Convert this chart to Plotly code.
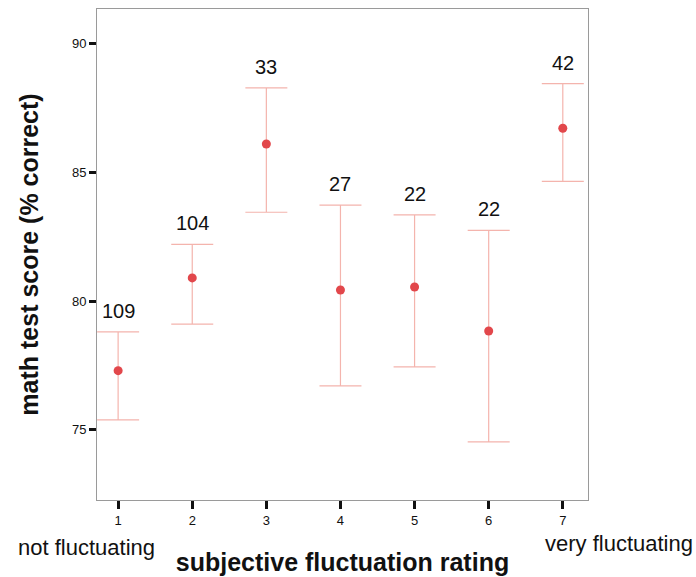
import plotly.graph_objects as go

ratings = [1, 2, 3, 4, 5, 6, 7]
means = [77.30, 80.90, 86.10, 80.43, 80.55, 78.84, 86.71]
upper = [78.81, 82.20, 88.28, 83.73, 83.35, 82.75, 88.44]
lower = [75.39, 79.11, 83.45, 76.71, 77.45, 74.54, 84.65]
counts = ["109", "104", "33", "27", "22", "22", "42"]
y_ticks = [75, 80, 85, 90]

err_plus = [u - m for u, m in zip(upper, means)]
err_minus = [m - l for m, l in zip(means, lower)]

FONT = "Liberation Sans, Arial, Helvetica, sans-serif"

fig = go.Figure()
fig.add_trace(go.Scatter(
    x=ratings, y=means, mode="markers",
    marker=dict(color="#e2474b", size=9, line=dict(width=0)),
    error_y=dict(type="data", symmetric=False, array=err_plus, arrayminus=err_minus,
                 color="#f4b4ad", thickness=1.2, width=21),
    showlegend=False, hoverinfo="skip",
))

annotations = []
for x, u, c in zip(ratings, upper, counts):
    annotations.append(dict(x=x, y=u, text=c, showarrow=False, xref="x", yref="y",
                            yanchor="bottom", yshift=8,
                            font=dict(family=FONT, size=20, color="#111")))

annotations += [
    dict(text="not fluctuating", x=-0.165, y=-0.097, xref="paper", yref="paper",
         xanchor="left", yanchor="middle", showarrow=False,
         font=dict(family=FONT, size=22, color="#111")),
    dict(text="very fluctuating", x=1.218, y=-0.088, xref="paper", yref="paper",
         xanchor="right", yanchor="middle", showarrow=False,
         font=dict(family=FONT, size=22, color="#111")),
]

fig.update_layout(
    width=696, height=577,
    margin=dict(l=97, r=108, t=9, b=77),
    paper_bgcolor="white", plot_bgcolor="white",
    font=dict(family=FONT, color="#111"),
    annotations=annotations,
    xaxis=dict(range=[0.715, 7.34], tickvals=ratings, ticktext=[str(r) for r in ratings],
               showgrid=False, zeroline=False, showline=True, mirror=True,
               linecolor="#9a9a9a", linewidth=1, automargin=False,
               ticks="outside", ticklen=8, tickwidth=3, tickcolor="#111",
               tickfont=dict(size=13, family=FONT),
               title=dict(text="<b>subjective fluctuation rating</b>",
                          font=dict(size=25, family=FONT), standoff=26)),
    yaxis=dict(range=[72.28, 91.34], tickvals=y_ticks,
               showgrid=False, zeroline=False, showline=True, mirror=True,
               linecolor="#9a9a9a", linewidth=1, automargin=False,
               ticks="outside", ticklen=7, tickwidth=3, tickcolor="#111",
               tickfont=dict(size=13, family=FONT),
               title=dict(text="<b>math test score (% correct)</b>",
                          font=dict(size=25, family=FONT), standoff=26)),
)

fig.write_html("out.html")
